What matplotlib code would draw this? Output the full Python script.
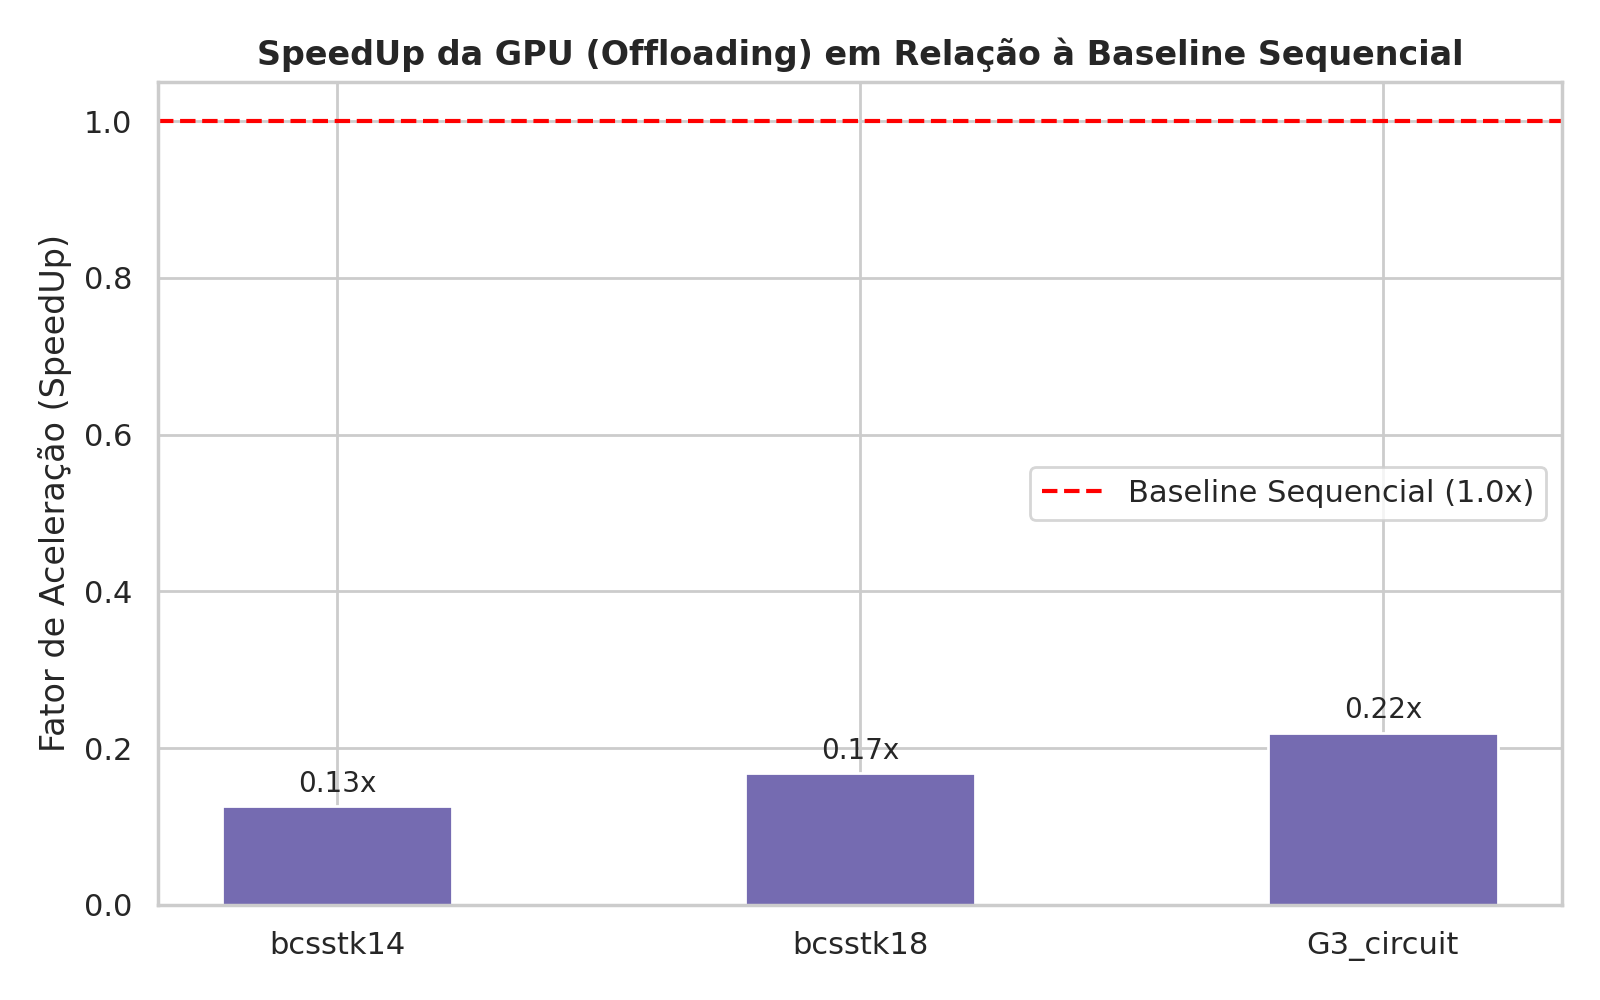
import numpy as np
import matplotlib
matplotlib.use("Agg")
import matplotlib.pyplot as plt
import seaborn as sns

# dados
matrizes = ["bcsstk14", "bcsstk18", "G3_circuit"]
speedups = [0.126, 0.168, 0.220]
baseline = 1.0

sns.set_theme(style="whitegrid")
plt.rcParams['font.family'] = ['DejaVu Sans']

fig, ax = plt.subplots(figsize=(8, 5), dpi=200)

x = np.arange(len(matrizes))
bars = ax.bar(x, speedups, width=0.44, color="#756bb1")
ax.axhline(baseline, color="red", linestyle="--", linewidth=1.5,
           label="Baseline Sequencial (1.0x)")

# rotulos em cima das barras
for b, v in zip(bars, speedups):
    ax.annotate(f"{v:.2f}x", (b.get_x() + b.get_width() / 2, v),
                xytext=(0, 3), textcoords="offset points",
                ha="center", va="bottom", fontsize=10)

ax.set_xticks(x)
ax.set_xticklabels(matrizes)
ax.set_ylim(0, 1.05)
ax.set_ylabel("Fator de Aceleração (SpeedUp)")
ax.set_title("SpeedUp da GPU (Offloading) em Relação à Baseline Sequencial",
             fontweight="bold", fontsize=12)
ax.legend(loc="center right")

fig.subplots_adjust(left=0.099, right=0.9815 - 0.0055, top=0.918, bottom=0.095)
fig.savefig("out.png", dpi=200)
